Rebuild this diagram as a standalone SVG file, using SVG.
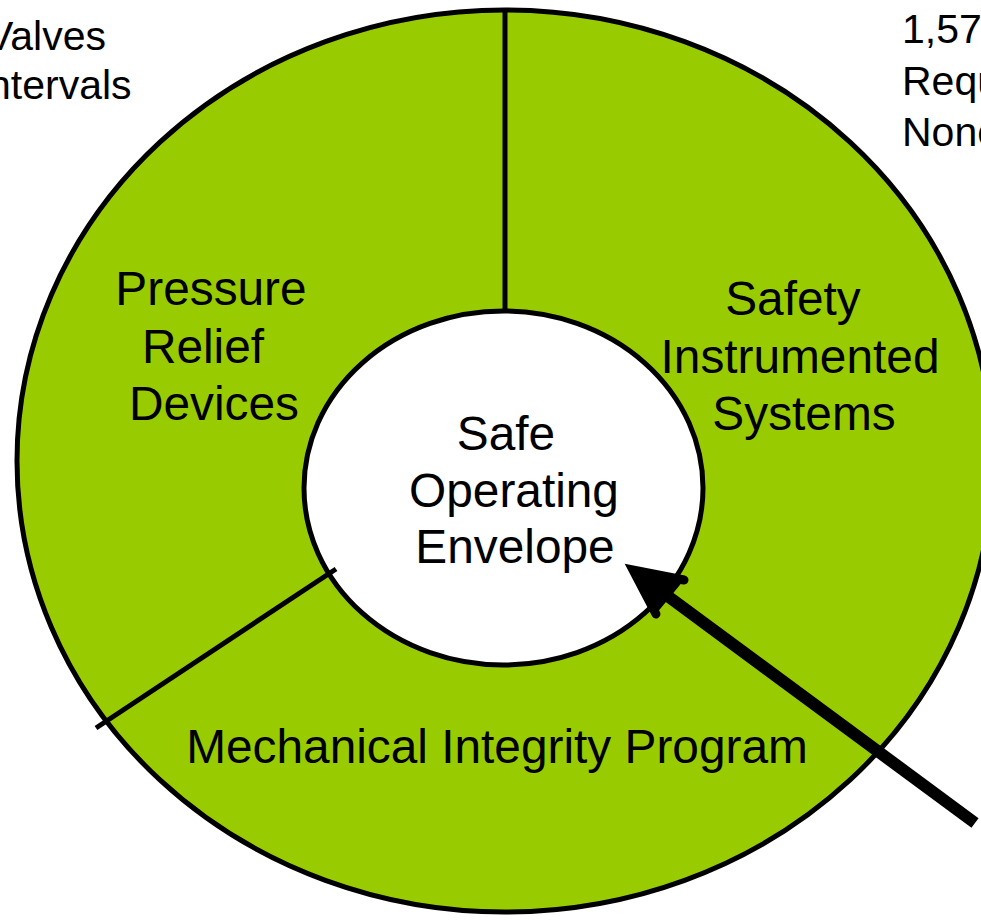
<svg xmlns="http://www.w3.org/2000/svg" width="981" height="920" viewBox="0 0 981 920">
<style>
.lbl{font-family:"Liberation Sans",Arial,sans-serif;font-size:47.8px;fill:#000;text-anchor:middle}
.side{font-family:"Liberation Sans",Arial,sans-serif;font-size:41px;fill:#000}
.edge{stroke:#000;stroke-width:5;fill:none}
</style>
<rect width="981" height="920" fill="#fff"/>
<g id="outer-ring">
<ellipse cx="505" cy="461" rx="488" ry="451" fill="#99CC00" stroke="#000" stroke-width="5"/>
</g>
<g id="safe-operating-envelope">
<ellipse cx="503.5" cy="488" rx="199.5" ry="177" fill="#fff" stroke="#000" stroke-width="5"/>
<text class="lbl" x="506" y="450">Safe</text>
<text class="lbl" x="514" y="507">Operating</text>
<text class="lbl" x="515" y="563">Envelope</text>
</g>
<g id="connectors">
<line class="edge" x1="505" y1="10" x2="505" y2="311"/>
<line class="edge" x1="96" y1="728" x2="336" y2="569"/>
<line x1="975" y1="823" x2="650" y2="583" stroke="#000" stroke-width="12"/>
<path d="M684,580 L633,570 L656,614" fill="#000" stroke="#000" stroke-width="9" stroke-linecap="round" stroke-linejoin="miter"/>
</g>
<g id="pressure-relief-devices">
<text class="lbl" x="211" y="305">Pressure</text>
<text class="lbl" x="203" y="363">Relief</text>
<text class="lbl" x="214" y="420">Devices</text>
</g>
<g id="safety-instrumented-systems">
<text class="lbl" x="793" y="315">Safety</text>
<text class="lbl" x="800" y="373">Instrumented</text>
<text class="lbl" x="804" y="430">Systems</text>
</g>
<g id="mechanical-integrity-program">
<text class="lbl" x="497" y="763">Mechanical Integrity Program</text>
</g>
<g id="side-notes">
<text class="side" x="-14" y="50">Valves</text>
<text class="side" x="-12" y="99">ntervals</text>
<text class="side" x="902" y="43">1,57</text>
<text class="side" x="902" y="95">Requ</text>
<text class="side" x="902" y="146">None</text>
</g>
</svg>
